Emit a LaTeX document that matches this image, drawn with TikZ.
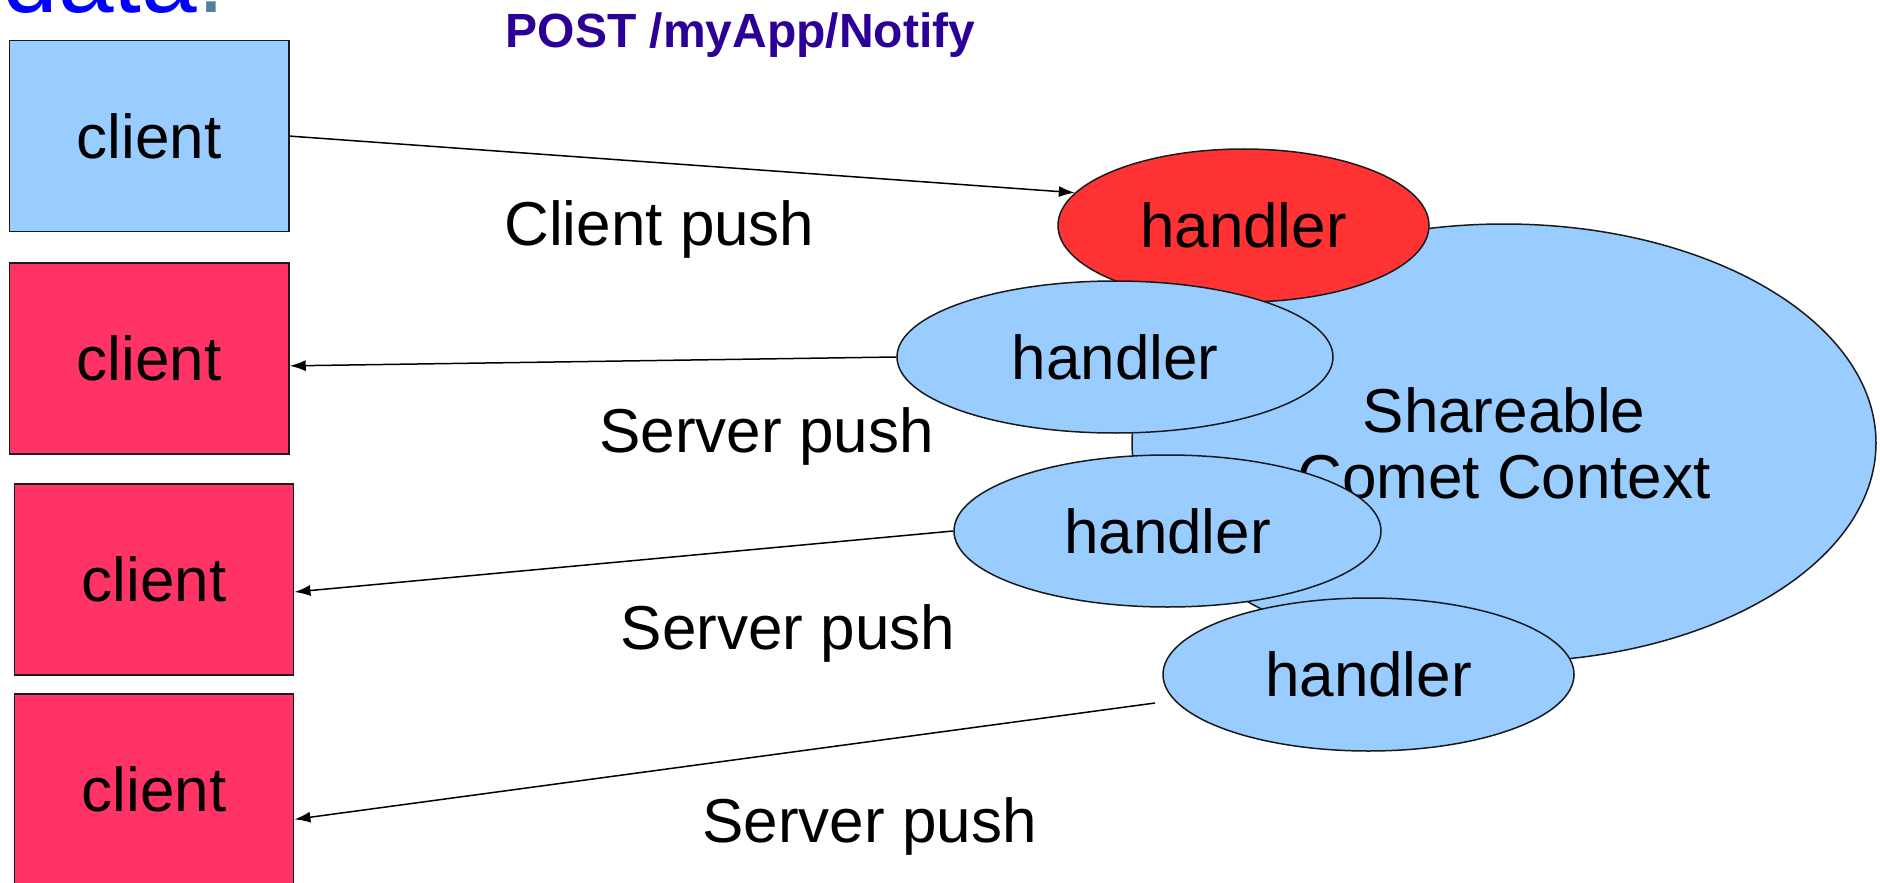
\documentclass[tikz,border=0pt]{standalone}
\usepackage{fontspec}
\setmainfont{Liberation Sans}
\usetikzlibrary{shapes.geometric,arrows.meta}

\definecolor{paleblue}{HTML}{99CCFF}
\definecolor{clientpink}{HTML}{FF3366}
\definecolor{handlerred}{HTML}{FF3333}
\definecolor{postpurple}{RGB}{44,0,150}
\definecolor{dotblue}{RGB}{80,128,160}
\definecolor{edge}{HTML}{1A1A1A}

\tikzset{
  clientbox/.style={draw=edge, line width=0.75pt, rectangle, inner sep=0pt,
    minimum width=139.7pt, minimum height=95.5pt, font=\fontsize{31}{33}\selectfont},
  handlerell/.style={draw=edge, line width=0.75pt, ellipse, inner sep=0pt,
    font=\fontsize{31}{33}\selectfont},
  caption/.style={anchor=base west, inner sep=0pt, font=\fontsize{31}{33}\selectfont},
  pushline/.style={line width=0.75pt, -{Latex[length=8pt,width=5.5pt]}}
}

\begin{document}
\begin{tikzpicture}[x=0.5pt,y=-0.5pt]
\useasboundingbox (0,0) rectangle (1880,883);

% heading fragment at the top edge
\node[anchor=base west, inner sep=0pt, font=\fontsize{50}{52}\selectfont]
  (head) at (2,13) {\textcolor{blue}{data}\textcolor{dotblue}{.}};

% request label
\node[anchor=base west, inner sep=0pt, text=postpurple,
  font=\fontsize{24}{26}\selectfont\bfseries] (post) at (505.5,47.7) {POST /myApp/Notify};

% clients
\node[clientbox, fill=paleblue]  (c1) at (149.3,136.1) {client};
\node[clientbox, fill=clientpink] (c2) at (149.3,358.5) {client};
\node[clientbox, fill=clientpink] (c3) at (154,579.7) {client};
\node[clientbox, fill=clientpink] (c4) at (154,789.5) {client};

% shared context and its handlers
\node[handlerell, fill=paleblue, minimum width=372pt, minimum height=219pt, align=center]
  (ctx) at (1504,443) {Shareable\\Comet Context};
\node[handlerell, fill=handlerred, minimum width=185.5pt, minimum height=76.5pt]
  (h1) at (1243.5,225.5) {handler};
\node[handlerell, fill=paleblue, minimum width=218pt, minimum height=76pt]
  (h2) at (1115,357) {handler};
\node[handlerell, fill=paleblue, minimum width=213.5pt, minimum height=76pt]
  (h3) at (1167.5,531) {handler};
\node[handlerell, fill=paleblue, minimum width=205.5pt, minimum height=76.5pt]
  (h4) at (1368.5,674.5) {handler};

% push labels
\node[caption] (lc)  at (504,245) {Client push};
\node[caption] (ls1) at (599,452) {Server push};
\node[caption] (ls2) at (620.5,649) {Server push};
\node[caption] (ls3) at (702,842) {Server push};

% connectors
\coordinate (t4) at (1155,703);
\draw[pushline] (c1.east) -- (h1.169);
\draw[pushline] (h2.west) -- (c2.-3.5);
\draw[pushline] (h3.west) -- (c3.-5);
\draw[pushline] (t4) -- (c4.-12);
\end{tikzpicture}
\end{document}
